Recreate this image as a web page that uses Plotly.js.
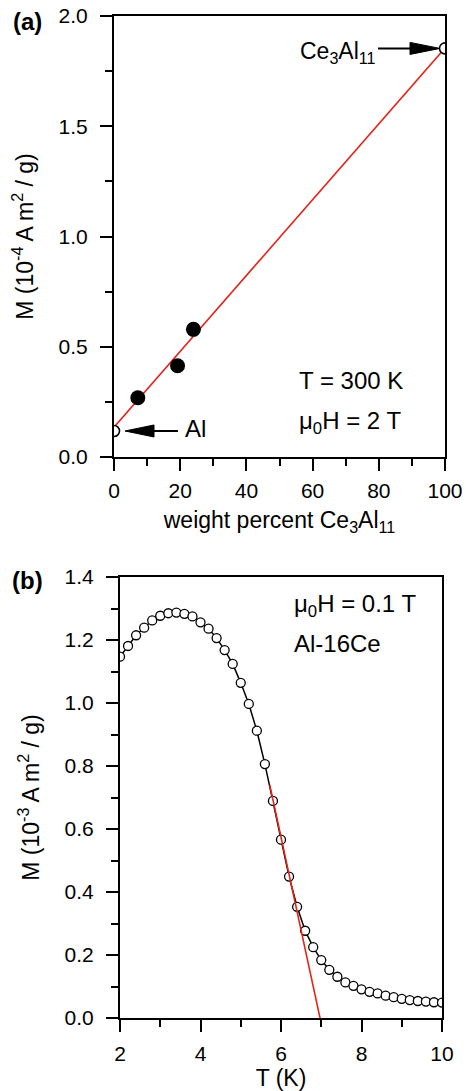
<!DOCTYPE html>
<html>
<head>
<meta charset="utf-8">
<script src="https://cdn.plot.ly/plotly-3.0.1.min.js"></script>
<style>html,body{margin:0;padding:0;background:#fff;}#chart{width:466px;height:1091px;}</style>
</head>
<body>
<div id="chart"></div>
<script>
// ---- Panel (a) data ----
const wtAlloy = [7.2, 19.2, 24.0];
const mAlloy = [0.269, 0.414, 0.579];
const wtRef = [0, 100];
const mRef = [0.118, 1.853];
const fitAX = [0, 100];
const fitAY = [0.135, 1.855];
const xTicksA = [0, 20, 40, 60, 80, 100];
const yTicksA = [0.0, 0.5, 1.0, 1.5, 2.0];

// ---- Panel (b) data ----
const tempK = [2.0, 2.2, 2.4, 2.6, 2.8, 3.0, 3.2, 3.4, 3.6, 3.8, 4.0, 4.2, 4.4, 4.6, 4.8,
  5.0, 5.2, 5.4, 5.6, 5.8, 6.0, 6.2, 6.4, 6.6, 6.8, 7.0, 7.2, 7.4, 7.6, 7.8, 8.0,
  8.2, 8.4, 8.6, 8.8, 9.0, 9.2, 9.4, 9.6, 9.8, 10.0];
const mT = [1.147, 1.181, 1.215, 1.239, 1.262, 1.277, 1.285, 1.287, 1.283, 1.275, 1.256,
  1.236, 1.206, 1.168, 1.124, 1.064, 0.997, 0.912, 0.806, 0.689, 0.566, 0.449, 0.353,
  0.277, 0.225, 0.184, 0.153, 0.131, 0.113, 0.102, 0.091, 0.083, 0.078, 0.071, 0.066,
  0.061, 0.057, 0.054, 0.052, 0.050, 0.049];
const fitBX = [5.72, 7.02];
const fitBY = [0.74, -0.03];
const xTicksB = [2, 4, 6, 8, 10];
const yTicksB = [0.0, 0.2, 0.4, 0.6, 0.8, 1.0, 1.2, 1.4];

const FONT = 'Arial, "Liberation Sans", sans-serif';
const W = 466, H = 1091;
const red = '#e2231a';
const TICK = 21, TITLE = 23, ANN = 24;

const traces = [
  {x: fitAX, y: fitAY, xaxis: 'x', yaxis: 'y', mode: 'lines', line: {color: red, width: 1.6}, hoverinfo: 'skip'},
  {x: wtAlloy, y: mAlloy, xaxis: 'x', yaxis: 'y', mode: 'markers', marker: {size: 15, color: '#000'}},
  {x: wtRef, y: mRef, xaxis: 'x', yaxis: 'y', mode: 'markers', marker: {size: 11, color: '#fff', line: {color: '#000', width: 1.6}}},
  {x: tempK, y: mT, xaxis: 'x2', yaxis: 'y2', mode: 'lines+markers', line: {color: '#000', width: 1.5},
   marker: {size: 9, color: '#fff', line: {color: '#000', width: 1.3}}},
  {x: fitBX, y: fitBY, xaxis: 'x2', yaxis: 'y2', mode: 'lines', line: {color: red, width: 1.6}, hoverinfo: 'skip'}
];

function axis(extra) {
  return Object.assign({
    showgrid: false, zeroline: false, showline: true, mirror: true,
    linecolor: '#000', linewidth: 2,
    ticks: 'outside', ticklen: 12, tickwidth: 2, tickcolor: '#000',
    tickfont: {family: FONT, size: TICK, color: '#000'},
    fixedrange: true
  }, extra);
}

const layout = {
  width: W, height: H,
  margin: {l: 0, r: 0, t: 0, b: 0},
  paper_bgcolor: '#fff', plot_bgcolor: '#fff',
  showlegend: false,
  font: {family: FONT, color: '#000'},
  xaxis: axis({
    domain: [114 / W, 445 / W], range: [0, 100], anchor: 'y',
    tickmode: 'array', tickvals: xTicksA, ticktext: xTicksA.map(String),
    ticklabelstandoff: 2,
    minor: {dtick: 10, ticks: 'outside', ticklen: 7, tickwidth: 2, tickcolor: '#000', showgrid: false},
    title: {text: 'weight percent Ce<sub>3</sub>Al<sub>11</sub>', font: {family: FONT, size: TITLE, color: '#000'}, standoff: 11}
  }),
  yaxis: axis({
    domain: [(H - 457) / H, (H - 16) / H], range: [0, 2], anchor: 'x',
    tickmode: 'array', tickvals: yTicksA, ticktext: yTicksA.map(v => v.toFixed(1)),
    ticklabelstandoff: 8,
    minor: {dtick: 0.25, ticks: 'outside', ticklen: 7, tickwidth: 2, tickcolor: '#000', showgrid: false},
    title: {text: 'M (10<sup>-4</sup> A m<sup>2</sup> / g)', font: {family: FONT, size: TITLE, color: '#000'}, standoff: 19}
  }),
  xaxis2: axis({
    domain: [120 / W, 442 / W], range: [2, 10], anchor: 'y2',
    tickmode: 'array', tickvals: xTicksB, ticktext: xTicksB.map(String),
    ticklabelstandoff: 4,
    minor: {dtick: 1, ticks: 'outside', ticklen: 7, tickwidth: 2, tickcolor: '#000', showgrid: false},
    title: {text: 'T (K)', font: {family: FONT, size: TITLE, color: '#000'}, standoff: 3}
  }),
  yaxis2: axis({
    domain: [(H - 1018) / H, (H - 577) / H], range: [0, 1.4], anchor: 'x2',
    tickmode: 'array', tickvals: yTicksB, ticktext: yTicksB.map(v => v.toFixed(1)),
    ticklabelstandoff: 8,
    minor: {dtick: 0.1, ticks: 'outside', ticklen: 7, tickwidth: 2, tickcolor: '#000', showgrid: false},
    title: {text: 'M (10<sup>-3</sup> A m<sup>2</sup> / g)', font: {family: FONT, size: TITLE, color: '#000'}, standoff: 19}
  }),
  shapes: [
    // arrow to Ce3Al11 point
    {type: 'path', xref: 'x', yref: 'y', xsizemode: 'pixel', ysizemode: 'pixel',
     xanchor: wtRef[1], yanchor: mRef[1], path: 'M-5,0 L-35,6 L-35,-6 Z',
     fillcolor: '#000', line: {color: '#000', width: 1}},
    {type: 'line', xref: 'x', yref: 'y', xsizemode: 'pixel', ysizemode: 'pixel',
     xanchor: wtRef[1], yanchor: mRef[1], x0: -67, x1: -34, y0: 0, y1: 0,
     line: {color: '#000', width: 2}},
    // arrow to Al point
    {type: 'path', xref: 'x', yref: 'y', xsizemode: 'pixel', ysizemode: 'pixel',
     xanchor: wtRef[0], yanchor: mRef[0], path: 'M11,0 L40,6 L40,-6 Z',
     fillcolor: '#000', line: {color: '#000', width: 1}},
    {type: 'line', xref: 'x', yref: 'y', xsizemode: 'pixel', ysizemode: 'pixel',
     xanchor: wtRef[0], yanchor: mRef[0], x0: 39, x1: 64, y0: 0, y1: 0,
     line: {color: '#000', width: 2}}
  ],
  annotations: [
    {text: '<b>(a)</b>', xref: 'paper', yref: 'paper', x: 27 / W, y: 1 - 22 / H, xanchor: 'center', yanchor: 'middle',
     showarrow: false, font: {family: FONT, size: 24, color: '#000'}},
    {text: '<b>(b)</b>', xref: 'paper', yref: 'paper', x: 27 / W, y: 1 - 580 / H, xanchor: 'center', yanchor: 'middle',
     showarrow: false, font: {family: FONT, size: 24, color: '#000'}},
    {text: 'Ce<sub>3</sub>Al<sub>11</sub>', xref: 'x', yref: 'y', x: wtRef[1], y: mRef[1],
     xshift: -107, yshift: -4, showarrow: false, font: {family: FONT, size: 23, color: '#000'}},
    {text: 'Al', xref: 'x', yref: 'y', x: wtRef[0], y: mRef[0], xshift: 81, yshift: 2,
     showarrow: false, font: {family: FONT, size: ANN, color: '#000'}},
    {text: 'T = 300 K', xref: 'x', yref: 'y', x: 55.2, y: 0.349, xanchor: 'left', showarrow: false,
     font: {family: FONT, size: ANN, color: '#000'}},
    {text: 'μ<sub>0</sub>H = 2 T', xref: 'x', yref: 'y', x: 55.2, y: 0.155, xanchor: 'left', showarrow: false,
     font: {family: FONT, size: ANN, color: '#000'}},
    {text: 'μ<sub>0</sub>H = 0.1 T', xref: 'x2', yref: 'y2', x: 6.28, y: 1.31, xanchor: 'left', showarrow: false,
     font: {family: FONT, size: ANN, color: '#000'}},
    {text: 'Al-16Ce', xref: 'x2', yref: 'y2', x: 6.28, y: 1.19, xanchor: 'left', showarrow: false,
     font: {family: FONT, size: ANN, color: '#000'}}
  ]
};

Plotly.newPlot('chart', traces, layout, {staticPlot: true, displayModeBar: false});
</script>
</body>
</html>
